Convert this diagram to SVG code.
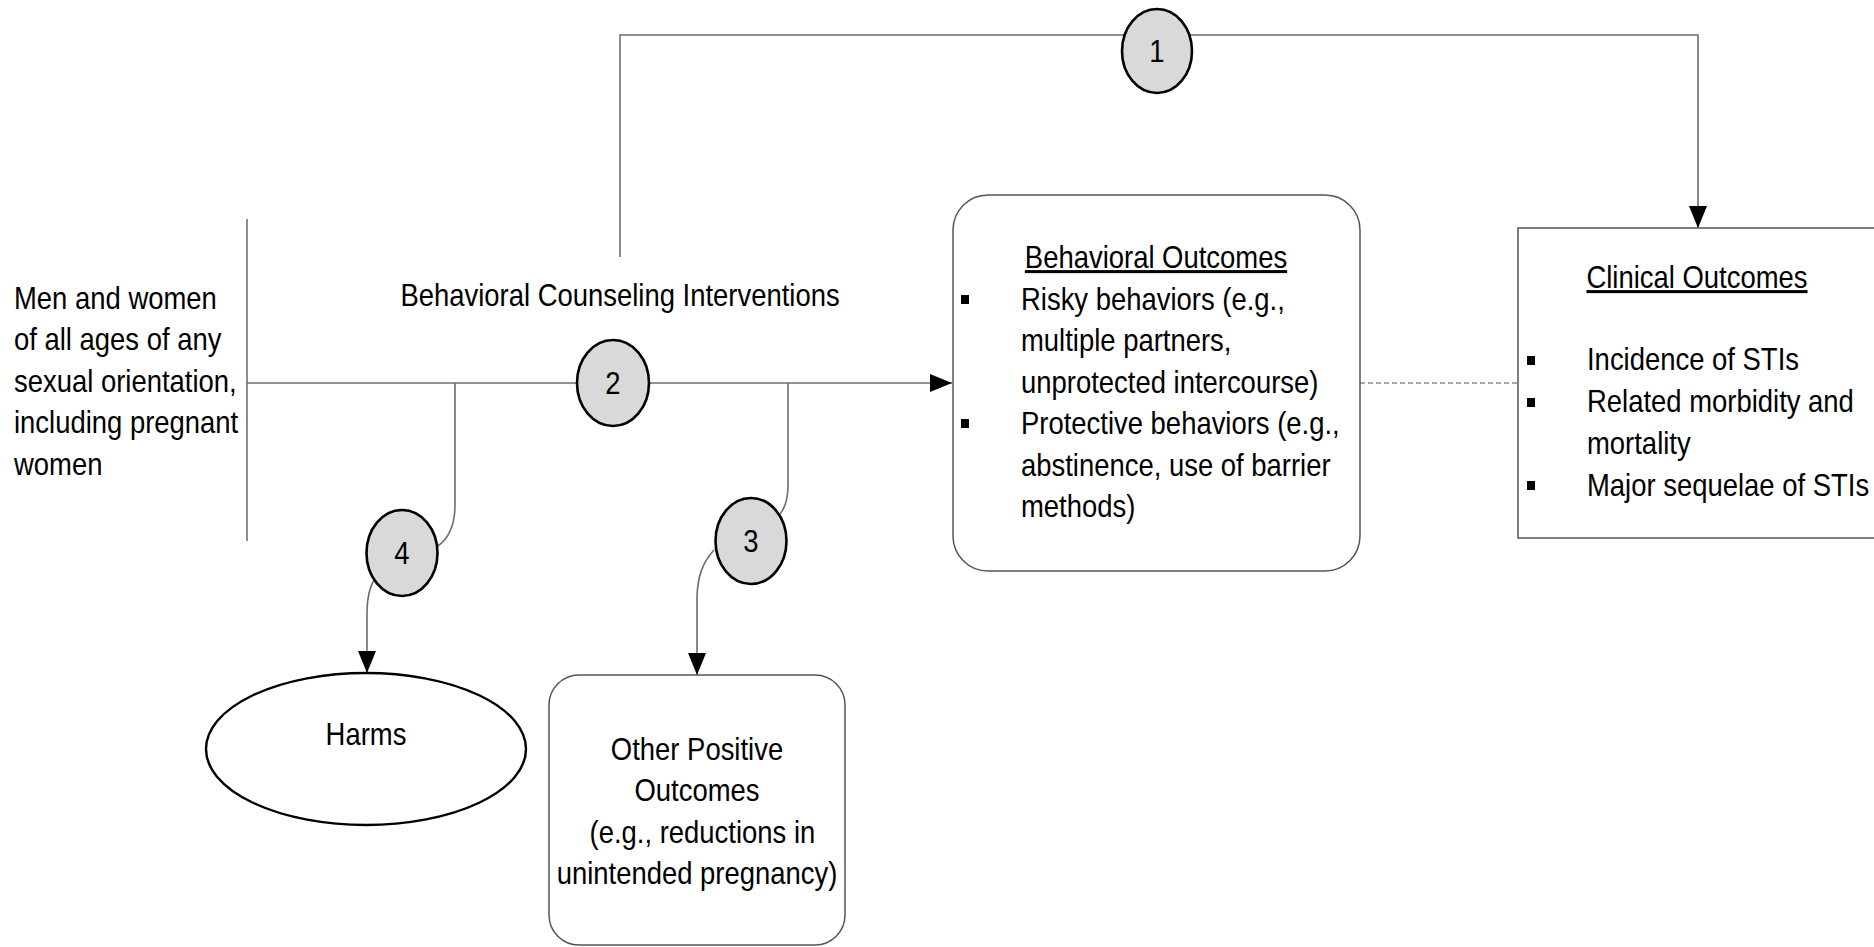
<svg xmlns="http://www.w3.org/2000/svg" width="1874" height="947" viewBox="0 0 1874 947">
<style>
.t{font-family:"Liberation Sans",Arial,sans-serif;font-size:30.5px;fill:#000}
.m{text-anchor:middle}
.u{text-decoration:underline}
.c{fill:none;stroke:#6e6e6e;stroke-width:1.6}
.d{fill:none;stroke:#8a8a8a;stroke-width:1.4;stroke-dasharray:5 3}
.num{fill:#d9d9d9;stroke:#000;stroke-width:2.6}
.box{fill:#fff;stroke:#555;stroke-width:1.5}
.bul{fill:#000}
</style>
<defs>
<marker id="ah" markerUnits="userSpaceOnUse" markerWidth="24" markerHeight="20" refX="22" refY="9" orient="auto">
<path d="M0,0 L22,9 L0,18 z" fill="#000"/>
</marker>
</defs>
<rect width="1874" height="947" fill="#fff"/>
<g id="connectors">
<path class="c" d="M620,257 V35 H1698 V228" marker-end="url(#ah)"/>
<path class="c" d="M247,383 H952" marker-end="url(#ah)"/>
<path class="c" d="M247,219 V541"/>
<path class="c" d="M788,383 V485 C788,500 785,508 780,514"/>
<path class="c" d="M714,550 C702,563 697,578 697,600 V675" marker-end="url(#ah)"/>
<path class="c" d="M455,383 V505 C455,525 449,538 438,546"/>
<path class="c" d="M375,578 C369,588 367,598 367,612 V673" marker-end="url(#ah)"/>
<path class="d" d="M1360,383 H1518"/>
</g>
<g id="population">
<text class="t" transform="translate(14,0) scale(0.9,1)"><tspan x="0" y="309">Men and women</tspan><tspan x="0" y="350.5">of all ages of any</tspan><tspan x="0" y="392">sexual orientation,</tspan><tspan x="0" y="433.5">including pregnant</tspan><tspan x="0" y="475">women</tspan></text>
</g>
<g id="interventions">
<text class="t m" transform="translate(620,0) scale(0.9,1)" x="0" y="306">Behavioral Counseling Interventions</text>
</g>
<g id="kq1">
<ellipse class="num" cx="1157" cy="51" rx="35" ry="42"/>
<text class="t m" transform="translate(1157,0) scale(0.9,1)" x="0" y="62">1</text>
</g>
<g id="kq2">
<ellipse class="num" cx="613" cy="383" rx="36" ry="43"/>
<text class="t m" transform="translate(613,0) scale(0.9,1)" x="0" y="394">2</text>
</g>
<g id="kq3">
<ellipse class="num" cx="751" cy="541" rx="35.5" ry="43"/>
<text class="t m" transform="translate(751,0) scale(0.9,1)" x="0" y="552">3</text>
</g>
<g id="kq4">
<ellipse class="num" cx="402" cy="553" rx="35.5" ry="43"/>
<text class="t m" transform="translate(402,0) scale(0.9,1)" x="0" y="564">4</text>
</g>
<g id="behavioral-outcomes">
<rect class="box" x="953" y="195" width="407" height="376" rx="35" ry="35"/>
<text class="t m u" transform="translate(1156,0) scale(0.9,1)" x="0" y="268">Behavioral Outcomes</text>
<rect class="bul" x="961" y="295" width="8" height="9"/>
<rect class="bul" x="961" y="419" width="8" height="9"/>
<text class="t" transform="translate(1021,0) scale(0.9,1)"><tspan x="0" y="310">Risky behaviors (e.g.,</tspan><tspan x="0" y="351.5">multiple partners,</tspan><tspan x="0" y="393">unprotected intercourse)</tspan><tspan x="0" y="434.5">Protective behaviors (e.g.,</tspan><tspan x="0" y="476">abstinence, use of barrier</tspan><tspan x="0" y="517.5">methods)</tspan></text>
</g>
<g id="clinical-outcomes">
<rect class="box" x="1518" y="228" width="370" height="310"/>
<text class="t m u" transform="translate(1697,0) scale(0.9,1)" x="0" y="288">Clinical Outcomes</text>
<rect class="bul" x="1527" y="356" width="8" height="9"/>
<rect class="bul" x="1527" y="398" width="8" height="9"/>
<rect class="bul" x="1527" y="481" width="8" height="9"/>
<text class="t" transform="translate(1587,0) scale(0.9,1)"><tspan x="0" y="370.5">Incidence of STIs</tspan><tspan x="0" y="412.3">Related morbidity and</tspan><tspan x="0" y="454.2">mortality</tspan><tspan x="0" y="496">Major sequelae of STIs</tspan></text>
</g>
<g id="harms">
<ellipse cx="366" cy="749" rx="160" ry="76" fill="#fff" stroke="#000" stroke-width="2.4"/>
<text class="t m" transform="translate(366,0) scale(0.9,1)" x="0" y="745">Harms</text>
</g>
<g id="other-positive-outcomes">
<rect class="box" x="549" y="675" width="296" height="270" rx="30" ry="30"/>
<text class="t m" transform="translate(697,0) scale(0.9,1)"><tspan x="0" y="760">Other Positive</tspan><tspan x="0" y="801">Outcomes</tspan><tspan x="6" y="843">(e.g., reductions in</tspan><tspan x="0" y="884">unintended pregnancy)</tspan></text>
</g>
</svg>
